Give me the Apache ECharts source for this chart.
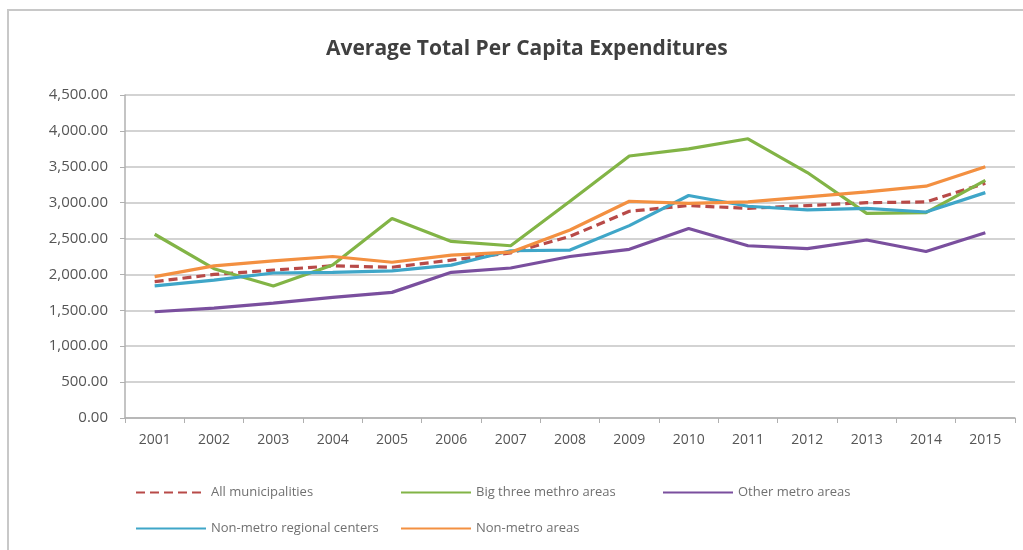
<!DOCTYPE html>
<html>
<head>
<meta charset="utf-8">
<script src="https://cdn.jsdelivr.net/npm/echarts@6/dist/echarts.min.js"></script>
<style>
html,body{margin:0;padding:0;background:#fff;}
#chart{width:1023px;height:550px;}
</style>
</head>
<body>
<div id="chart"></div>
<script>
const years = ['2001','2002','2003','2004','2005','2006','2007','2008','2009','2010','2011','2012','2013','2014','2015'];
const allMunicipalities = [1900,2000,2060,2120,2100,2200,2300,2530,2880,2960,2920,2960,3000,3010,3270];
const bigThree = [2560,2080,1840,2130,2780,2460,2400,3020,3650,3750,3890,3420,2850,2860,3310];
const otherMetro = [1480,1530,1600,1680,1750,2030,2090,2250,2350,2640,2400,2360,2480,2320,2580];
const nonMetroRegional = [1840,1920,2020,2030,2050,2130,2330,2340,2680,3100,2950,2900,2920,2870,3140];
const nonMetroAreas = [1970,2120,2190,2250,2170,2270,2310,2620,3020,2990,3010,3080,3150,3230,3500];
const yTicks = {min:0, max:4500, interval:500};

const names = ['All municipalities','Big three methro areas','Other metro areas','Non-metro regional centers','Non-metro areas'];
const colors = ['#b84a48','#82b446','#7a4f9e','#3fa6c8','#f39041'];
const data = [allMunicipalities, bigThree, otherMetro, nonMetroRegional, nonMetroAreas];

const chart = echarts.init(document.getElementById('chart'));
const fontFam = '"Open Sans", Lato, sans-serif';

const legendPos = [[130,481],[395,481],[657,481],[130,517],[395,517]];
const legends = names.map((n,i)=>({
  data:[n], left:legendPos[i][0], top:legendPos[i][1], itemWidth:70, itemHeight:14, itemGap:8,
  itemStyle:{color:'rgba(0,0,0,0)', borderColor:'rgba(0,0,0,0)', borderWidth:0},
  textStyle:{color:'#707070', fontSize:13, fontFamily:fontFam}
}));

chart.setOption({
  animation:false,
  graphic:[{type:'rect', shape:{x:8,y:10,width:1100,height:600}, style:{fill:'none', stroke:'#c8c8c8', lineWidth:2}, z:-1}],
  title:{text:'Average Total Per Capita Expenditures', left:321, top:34,
    textStyle:{fontSize:21, fontWeight:'bold', color:'#404040', fontFamily:fontFam}},
  legend:legends,
  grid:{left:125, right:8, top:95, bottom:132, containLabel:false},
  xAxis:{type:'category', data:years, boundaryGap:true,
    axisLine:{lineStyle:{color:'#b0b0b0', width:1.5}},
    axisTick:{show:true, length:5, lineStyle:{color:'#b0b0b0'}},
    axisLabel:{color:'#555', fontSize:14, margin:15, fontFamily:fontFam}},
  yAxis:{type:'value', min:yTicks.min, max:yTicks.max, interval:yTicks.interval,
    axisLine:{show:true, lineStyle:{color:'#b0b0b0', width:1.5}},
    axisTick:{show:true, length:5, lineStyle:{color:'#b0b0b0'}},
    splitLine:{lineStyle:{color:'#c4c4c4', width:1.5}},
    axisLabel:{color:'#555', fontSize:15, margin:17, fontFamily:fontFam,
      formatter:v=>v.toLocaleString('en-US',{minimumFractionDigits:2, maximumFractionDigits:2})}},
  series:names.map((n,i)=>({
    name:n, type:'line', data:data[i], symbol:'none', smooth:false,
    itemStyle:{color:colors[i]},
    lineStyle:{color:colors[i], width:3.2, type: i===0 ? [9,5] : 'solid'}
  }))
});
</script>
</body>
</html>
